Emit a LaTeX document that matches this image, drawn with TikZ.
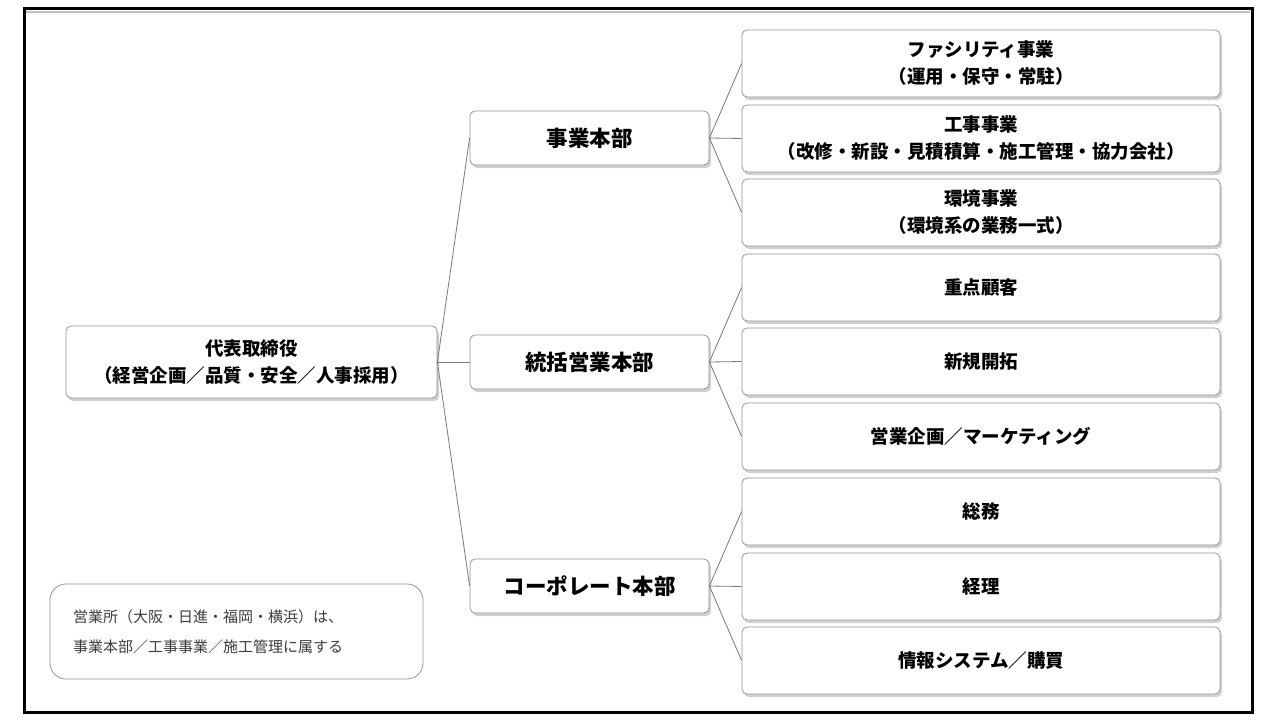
\documentclass[tikz,border=0pt]{standalone}
\usepackage{fontspec}
\setmainfont{Noto Sans CJK JP}
\usetikzlibrary{shadows}
\definecolor{boxline}{RGB}{150,150,150}
\definecolor{conn}{RGB}{120,120,120}
\definecolor{notetext}{RGB}{60,60,60}
\tikzset{
  box/.style={draw=boxline, fill=white, rounded corners=5pt, line width=0.8pt, inner sep=0pt, align=center,
    drop shadow={shadow xshift=2pt, shadow yshift=-3pt, opacity=0.3, fill=black!60}},
  rootbox/.style={box, minimum width=371pt, minimum height=72pt, font=\bfseries\fontsize{18.5}{27}\selectfont},
  midbox/.style={box, minimum width=239pt, minimum height=54pt, font=\bfseries\fontsize{21.5}{24}\selectfont},
  leafbox/.style={box, minimum width=478pt, minimum height=67pt, font=\bfseries\fontsize{18.5}{27}\selectfont},
  link/.style={draw=conn, line width=0.8pt},
  notebox/.style={draw=boxline, rounded corners=16pt, line width=0.8pt, minimum width=373pt, minimum height=95pt, inner sep=0pt},
  notetxt/.style={font=\fontsize{15}{30}\selectfont, text=notetext, align=left, inner sep=0pt},
}
\begin{document}
\begin{tikzpicture}[x=1pt,y=-1pt]
\useasboundingbox (0,0) rectangle (1280,720);
\fill[white] (0,0) rectangle (1280,720);
% frame
\draw[black!25, line width=2pt] (26,11.5) -- (1250,11.5);
\draw[line width=3pt] (24,8) rectangle (1252,712);

% root
\node[rootbox] (root) at (251.5,362) {代表取締役\\（経営企画／品質・安全／人事採用）};

% middle
\node[midbox] (m1) at (589.5,138) {事業本部};
\node[midbox] (m2) at (589.5,362) {統括営業本部};
\node[midbox] (m3) at (589.5,586) {コーポレート本部};

% leaves
\node[leafbox] (l1) at (981,63.5) {ファシリティ事業\\（運用・保守・常駐）};
\node[leafbox] (l2) at (981,138.5) {工事事業\\（改修・新設・見積積算・施工管理・協力会社）};
\node[leafbox] (l3) at (981,212.5) {環境事業\\（環境系の業務一式）};
\node[leafbox] (l4) at (981,287.5) {\raisebox{2.5pt}{重点顧客}};
\node[leafbox] (l5) at (981,361.5) {\raisebox{2.5pt}{新規開拓}};
\node[leafbox] (l6) at (981,436.5) {\raisebox{2.5pt}{営業企画／マーケティング}};
\node[leafbox] (l7) at (981,511.5) {\raisebox{2.5pt}{総務}};
\node[leafbox] (l8) at (981,586.5) {\raisebox{2.5pt}{経理}};
\node[leafbox] (l9) at (981,660.5) {\raisebox{2.5pt}{情報システム／購買}};

% connectors
\draw[link] (root.east) -- (m1.west);
\draw[link] (root.east) -- (m2.west);
\draw[link] (root.east) -- (m3.west);
\foreach \m/\a/\b/\c in {m1/l1/l2/l3, m2/l4/l5/l6, m3/l7/l8/l9}{
  \draw[link] (\m.east) -- (\a.west);
  \draw[link] (\m.east) -- (\b.west);
  \draw[link] (\m.east) -- (\c.west);
}

% note
\node[notebox] (note) at (236.5,631.5) {};
\node[notetxt, anchor=west] (notet) at (73,632) {営業所（大阪・日進・福岡・横浜）は、\\事業本部／工事事業／施工管理に属する};
\end{tikzpicture}
\end{document}
